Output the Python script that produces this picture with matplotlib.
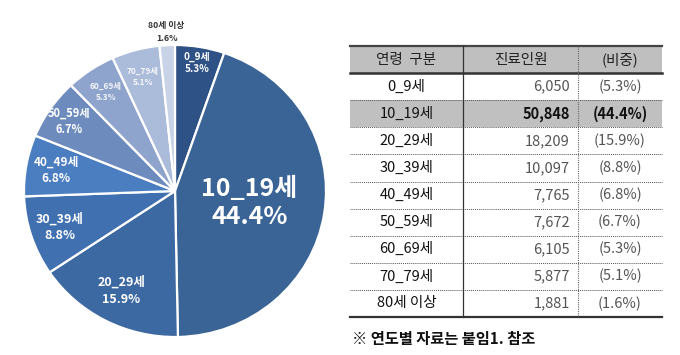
import matplotlib.pyplot as plt
import numpy as np

plt.rcParams['font.family'] = ['Noto Sans CJK KR', 'DejaVu Sans']

# data
ages = ['0_9세', '10_19세', '20_29세', '30_39세', '40_49세',
        '50_59세', '60_69세', '70_79세', '80세 이상']
patients = [6050, 50848, 18209, 10097, 7765, 7672, 6105, 5877, 1881]
shares = [5.3, 44.4, 15.9, 8.8, 6.8, 6.7, 5.3, 5.1, 1.6]
highlight = '10_19세'
footnote = '※ 연도별 자료는 붙임1. 참조'

colors = ['#2F5286', '#3A6496', '#3D69A2', '#4070B0', '#4B7EC1',
          '#6E8BBE', '#8FA4CC', '#ABBBDA', '#C9D3E8']
label_r = [0.89, 0.5, 0.77, 0.8, 0.8, 0.85, 0.82, 0.81, 1.09]
label_fs = [7.2, 18, 9, 9, 8.5, 8, 6, 6, 6.3]

fig = plt.figure(figsize=(6.8, 3.55), dpi=100)
fig.patch.set_facecolor('white')

# ---- pie ----
ax = fig.add_axes([24 / 680, 18 / 355, 302 / 680, 292 / 355])
wedges, _ = ax.pie(patients, colors=colors, startangle=90, counterclock=False,
                   wedgeprops=dict(edgecolor='white', linewidth=1.6))
ax.set_aspect('auto')
ax.set_xlim(-1, 1)
ax.set_ylim(-1, 1)

for w, name, pct, r, fs in zip(wedges, ages, shares, label_r, label_fs):
    mid = np.deg2rad((w.theta1 + w.theta2) / 2)
    x, y = r * np.cos(mid), r * np.sin(mid)
    if name == highlight:
        ax.text(x, y, f'{name}\n{pct}%', ha='center', va='center', color='white',
                fontsize=fs, fontweight='bold', linespacing=1.2)
    elif r > 1:
        ax.text(x, y, f'{name}\n{pct}%', ha='center', va='center', color='#333333',
                fontsize=fs, fontweight='bold', linespacing=1.45)
    else:
        ax.text(x, y, f'{name}\n{pct}%', ha='center', va='center', color='white',
                fontsize=fs, fontweight='bold', linespacing=1.35,
                alpha=0.9 if fs < 7 else 1)

# ---- table ----
tx = fig.add_axes([0, 0, 1, 1])
tx.set_xlim(0, 680)
tx.set_ylim(355, 0)
tx.axis('off')

left, c1, c2, right = 350, 463, 578, 662
top, row_h = 46, 27.1
header = ['연령  구분', '진료인원', '(비중)']
fs_t = 10.5

tx.fill_between([left, right], top, top + row_h, color='#BFBFBF', lw=0)
for txt, xc in zip(header, [(left + c1) / 2, (c1 + c2) / 2, (c2 + right) / 2]):
    tx.text(xc, top + row_h / 2, txt, ha='center', va='center',
            fontsize=fs_t, color='#222222')

for i, (name, n, pct) in enumerate(zip(ages, patients, shares)):
    y0 = top + row_h * (i + 1)
    yc = y0 + row_h / 2
    bold = name == highlight
    if bold:
        tx.fill_between([left, right], y0, y0 + row_h, color='#C0C0C0', lw=0)
    tx.text((left + c1) / 2, yc, name, ha='center', va='center', fontsize=fs_t,
            color='#111111')
    tx.text(c2 - 8, yc, f'{n:,}', ha='right', va='center', fontsize=fs_t,
            color='#111111' if bold else '#555555',
            fontweight='bold' if bold else 'normal')
    tx.text((c2 + right) / 2, yc, f'({pct}%)', ha='center', va='center', fontsize=fs_t,
            color='#111111' if bold else '#555555',
            fontweight='bold' if bold else 'normal')
    if i > 0:
        tx.plot([left, right], [y0, y0], color='#555555', lw=0.7, ls=(0, (1, 1)))

bottom = top + row_h * (len(ages) + 1)
tx.plot([left, right], [top, top], color='#444444', lw=1.6)
tx.plot([left, right], [top + row_h, top + row_h], color='#333333', lw=1.8)
tx.plot([left, right], [bottom, bottom], color='#333333', lw=1.6)
tx.plot([c1, c1], [top, bottom], color='#333333', lw=0.9)
tx.plot([c2, c2], [top, bottom], color='#666666', lw=0.8, ls=(0, (1, 1)))

tx.text(352, 339, footnote, ha='left', va='center', fontsize=11, color='#111111',
        fontweight='bold')

fig.savefig('out.png', dpi=100, facecolor='white')
